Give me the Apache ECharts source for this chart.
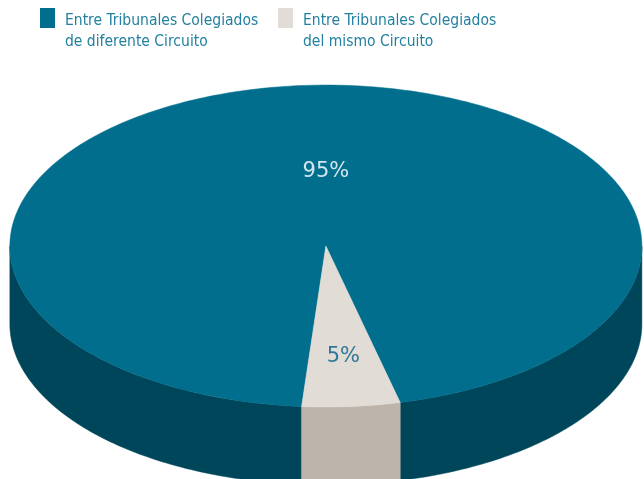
<!DOCTYPE html>
<html>
<head>
<meta charset="utf-8">
<script src="https://cdn.jsdelivr.net/npm/echarts@6/dist/echarts.min.js"></script>
<style>
html,body{margin:0;padding:0;background:#fff;}
#chart{width:644px;height:479px;}
</style>
</head>
<body>
<div id="chart"></div>
<script>
// ---- data ----
const categories = ['Entre Tribunales Colegiados\nde diferente Circuito', 'Entre Tribunales Colegiados\ndel mismo Circuito'];
const values = [95, 5];
const labels = ['95%', '5%'];

// ---- styles ----
const topColors = ['#006e8c', '#e1dcd5'];
const sideColors = ['#00465a', '#bdb4ab'];
const labelColors = ['#d2e6ee', '#2e7898'];
const labelRadius = [0.46, 0.69];
const labelAngleShift = [4.6, 0];
const startAngle = 94.4; // degrees, clockwise on screen
const legendFont = '15.5px "DejaVu Sans Condensed", "DejaVu Sans", sans-serif';

const chart = echarts.init(document.getElementById('chart'));
const total = values.reduce((a, b) => a + b, 0);

function geom(api) {
  const W = api.getWidth(), H = api.getHeight();
  return { cx: W * 0.506, cy: H * 0.5136, rx: W * 0.4907, ry: H * 0.336, h: H * 0.163 };
}
function pt(g, deg, dy) {
  const a = deg * Math.PI / 180;
  return [g.cx + g.rx * Math.cos(a), g.cy + (dy || 0) + g.ry * Math.sin(a)];
}
function arc(g, a1, a2, dy) {
  const pts = [];
  const n = Math.max(2, Math.ceil(Math.abs(a2 - a1) / 1));
  for (let i = 0; i <= n; i++) pts.push(pt(g, a1 + (a2 - a1) * i / n, dy));
  return pts;
}

function renderItem(params, api) {
  const g = geom(api);
  const i = params.dataIndex;
  let before = 0;
  for (let k = 0; k < i; k++) before += values[k];
  const a1 = startAngle + before / total * 360;
  const a2 = a1 + api.value(0) / total * 360;
  const children = [];
  // visible front side: angles in [0,180] (mod 360)
  for (let base = 0; base <= 720; base += 360) {
    const lo = Math.max(a1, base), hi = Math.min(a2, base + 180);
    if (hi > lo) {
      const pts = arc(g, lo, hi, 0).concat(arc(g, hi, lo, g.h));
      children.push({ type: 'polygon', shape: { points: pts }, style: { fill: sideColors[i], stroke: sideColors[i], lineWidth: 0.5 } });
    }
  }
  // top face
  const topPts = [[g.cx, g.cy]].concat(arc(g, a1, a2, 0));
  children.push({ type: 'polygon', shape: { points: topPts }, style: { fill: topColors[i], stroke: topColors[i], lineWidth: 0.5 } });
  // label
  const mid = ((a1 + a2) / 2 + labelAngleShift[i]) * Math.PI / 180;
  const r = labelRadius[i];
  children.push({
    type: 'text',
    style: {
      x: g.cx + g.rx * r * Math.cos(mid),
      y: g.cy + g.ry * r * Math.sin(mid),
      text: labels[i],
      fill: labelColors[i],
      font: '21px "DejaVu Sans", sans-serif',
      textAlign: 'center',
      textVerticalAlign: 'middle'
    },
    z2: 10
  });
  return { type: 'group', children: children };
}

const legendX = [40, 278];
const legendGraphics = [];
categories.forEach((name, i) => {
  legendGraphics.push({ type: 'rect', left: legendX[i], top: 8, shape: { width: 15, height: 20 }, style: { fill: topColors[i] } });
  legendGraphics.push({ type: 'text', left: legendX[i] + 25, top: 10, style: { text: name, font: legendFont, fill: '#2380a0', lineHeight: 21 } });
});

chart.setOption({
  backgroundColor: '#ffffff',
  animation: false,
  graphic: legendGraphics,
  series: [{
    type: 'custom',
    coordinateSystem: 'none',
    renderItem: renderItem,
    data: values.map((v, i) => ({ name: categories[i], value: [v] }))
  }]
});
</script>
</body>
</html>
